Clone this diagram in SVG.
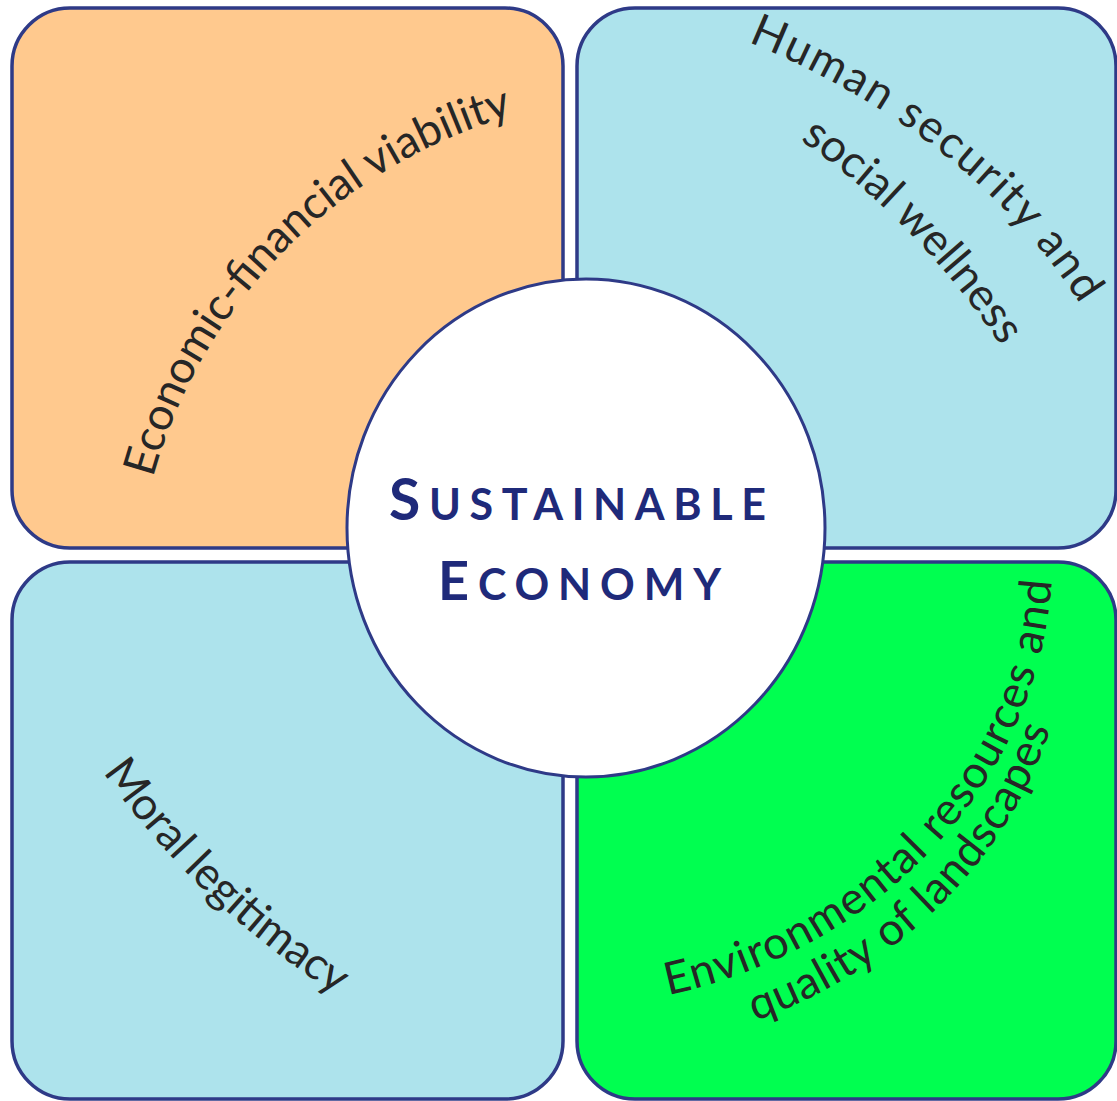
<svg xmlns="http://www.w3.org/2000/svg" width="1117" height="1101" viewBox="0 0 1117 1101">
  <style>
    .box { stroke: #2E3A87; stroke-width: 3.5; }
    .orange { fill: #FFC98E; }
    .blue { fill: #ADE3EC; }
    .green { fill: #00FF50; }
    .hub { fill: #FFFFFF; stroke: #2E3A87; stroke-width: 3; }
    .lbl { font-family: Lato, "Open Sans", "Liberation Sans", sans-serif; font-size: 45px; fill: #262626; }
    .title { font-family: Lato, "Open Sans", "Liberation Sans", sans-serif; font-weight: bold; fill: #1F2A7A; }
  </style>
  <defs>
    <path id="p1" d="M153,478 C202,300 339,165 516,114"/>
    <path id="p2" d="M748,42 C883,97 1005,184 1084,310"/>
    <path id="p2b" d="M800,140 C880,195 948,267 1003,349"/>
    <path id="p3" d="M103,772 C165.5,861 245.6,937 340,997"/>
    <path id="p4" d="M668,995 C875,951 1041,787 1052,575"/>
    <path id="p4b" d="M755,1021 C893,972 1008,864 1052,724"/>
  </defs>
  <rect width="1117" height="1101" fill="#FFFFFF"/>

  <g id="economic">
    <rect class="box orange" x="12" y="8" width="551" height="540" rx="58" ry="58"/>
    <text class="lbl"><textPath href="#p1" textLength="534" lengthAdjust="spacing">Economic-financial viability</textPath></text>
  </g>

  <g id="human">
    <rect class="box blue" x="577" y="8" width="539" height="540" rx="58" ry="58"/>
    <text class="lbl"><textPath href="#p2" textLength="430" lengthAdjust="spacing">Human security and</textPath></text>
    <text class="lbl"><textPath href="#p2b" textLength="290" lengthAdjust="spacing">social wellness</textPath></text>
  </g>

  <g id="moral">
    <rect class="box blue" x="12" y="562" width="551" height="537" rx="58" ry="58"/>
    <text class="lbl"><textPath href="#p3" textLength="325" lengthAdjust="spacing">Moral legitimacy</textPath></text>
  </g>

  <g id="environmental">
    <rect class="box green" x="577" y="562" width="539" height="537" rx="58" ry="58"/>
    <text class="lbl"><textPath href="#p4" textLength="606" lengthAdjust="spacing">Environmental resources and</textPath></text>
    <text class="lbl"><textPath href="#p4b" textLength="430" lengthAdjust="spacing">quality of landscapes</textPath></text>
  </g>

  <g id="connectors"/>

  <g id="sustainable-economy">
    <ellipse class="hub" cx="586" cy="528" rx="239" ry="249"/>
    <text class="title" x="389" y="520" textLength="377" lengthAdjust="spacing"><tspan font-size="57">S</tspan><tspan font-size="43">USTAINABLE</tspan></text>
    <text class="title" x="438" y="600" textLength="283" lengthAdjust="spacing"><tspan font-size="54">E</tspan><tspan font-size="43">CONOMY</tspan></text>
  </g>
</svg>
